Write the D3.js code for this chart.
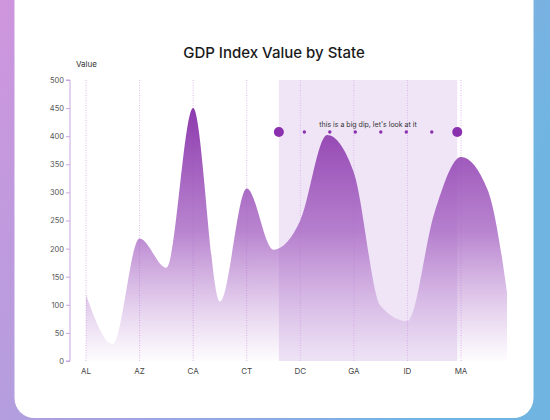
<!DOCTYPE html>
<html><head><meta charset="utf-8">
<script src="https://cdn.jsdelivr.net/npm/d3@7/dist/d3.min.js"></script>
<style>html,body{margin:0;padding:0;overflow:hidden;background:#fff}</style>
</head><body>
<script>
const categories = ["AL","AZ","CA","CT","DC","GA","ID","MA"];
const pointPos = [0,0.5,1,1.5,2,2.5,3,3.5,4,4.5,5,5.5,6,6.5,7,7.5,8];
const values = [118,30,218,166,450,106,307,198,250,402,335,98,71,262,363,304,20];
const yTicks = [0,50,100,150,200,250,300,350,400,450,500];
const highlightRange = [3.6,6.93];
const markerPos = [3.6,4.076,4.551,5.027,5.503,5.979,6.454,6.93];
const annotation = "this is a big dip, let's look at it";
const title = "GDP Index Value by State";

const W=550,H=420;
const svg=d3.select("body").append("svg").attr("width",W).attr("height",H)
  .style("font-family","Inter, 'Noto Sans', sans-serif");
const defs=svg.append("defs");
const bg=defs.append("linearGradient").attr("id","bg").attr("x1","0").attr("y1","0").attr("x2","1").attr("y2","0.3");
bg.append("stop").attr("offset","0").attr("stop-color","#cf95dd");
bg.append("stop").attr("offset","1").attr("stop-color","#70b5e2");
svg.append("rect").attr("width",W).attr("height",H).attr("fill","url(#bg)");
svg.append("rect").attr("x",14.5).attr("y",-25).attr("width",519).attr("height",443).attr("rx",20).attr("fill","#fff");

const x=d3.scaleLinear().domain([0,7]).range([86,461]);
const y=d3.scaleLinear().domain([0,500]).range([361,80]);

const ag=defs.append("linearGradient").attr("id","ag").attr("gradientUnits","userSpaceOnUse")
  .attr("x1",0).attr("y1",y(460)).attr("x2",0).attr("y2",y(0));
ag.append("stop").attr("offset","0").attr("stop-color","#8a36ab").attr("stop-opacity",1);
ag.append("stop").attr("offset","0.5").attr("stop-color","#a562c2").attr("stop-opacity",0.78);
ag.append("stop").attr("offset","1").attr("stop-color","#b77fd0").attr("stop-opacity",0.02);
defs.append("clipPath").attr("id","clip").append("rect").attr("x",70).attr("y",60).attr("width",437).attr("height",302);

// highlight rect
svg.append("rect").attr("x",x(highlightRange[0])).attr("y",y(500))
  .attr("width",x(highlightRange[1])-x(highlightRange[0])).attr("height",y(0)-y(500))
  .attr("fill","#efe5f6");

// gridlines
svg.append("g").selectAll("line").data(categories).join("line")
  .attr("x1",(d,i)=>x(i)).attr("x2",(d,i)=>x(i)).attr("y1",y(500)).attr("y2",y(0))
  .attr("stroke","#dcb8ea").attr("stroke-width",1).attr("stroke-dasharray","1,1.5");

// area
const data=pointPos.map((p,i)=>({p,v:values[i]}));
const area=d3.area().x(d=>x(d.p)).y0(y(0)).y1(d=>y(d.v)).curve(d3.curveMonotoneX);
svg.append("path").datum(data).attr("d",area).attr("fill","url(#ag)").attr("clip-path","url(#clip)");

// y axis
const yAxis=d3.axisLeft(y).tickValues(yTicks).tickSize(4).tickPadding(2);
const ya=svg.append("g").attr("transform","translate(70,0)").call(yAxis);
ya.select(".domain").attr("stroke","#c9a5df").attr("d","M-4,"+y(0)+"H0V"+y(500)+"H-4");
ya.selectAll(".tick line").attr("stroke","#c9a5df");
ya.selectAll(".tick text").attr("fill","#555").style("font-size","7.5px").style("font-family","Inter, sans-serif");

// x labels
svg.append("g").selectAll("text").data(categories).join("text")
  .attr("x",(d,i)=>x(i)).attr("y",374).attr("text-anchor","middle")
  .attr("fill","#444").style("font-size","8px").text(d=>d);

// markers
svg.append("g").selectAll("circle").data(markerPos).join("circle")
  .attr("cx",d=>x(d)).attr("cy",132)
  .attr("r",(d,i)=>(i===0||i===markerPos.length-1)?5:1.7)
  .attr("fill","#8a2fae");
svg.append("text").attr("x",(x(highlightRange[0])+x(highlightRange[1]))/2).attr("y",127)
  .attr("text-anchor","middle").attr("fill","#333").style("font-size","7px").text(annotation);

svg.append("text").attr("x",274).attr("y",58).attr("text-anchor","middle").attr("fill","#1a1a1a")
  .style("font-size","15px").style("font-weight","500").text(title);
svg.append("text").attr("x",76).attr("y",67).attr("fill","#333").style("font-size","8px").text("Value");
</script>
</body></html>
